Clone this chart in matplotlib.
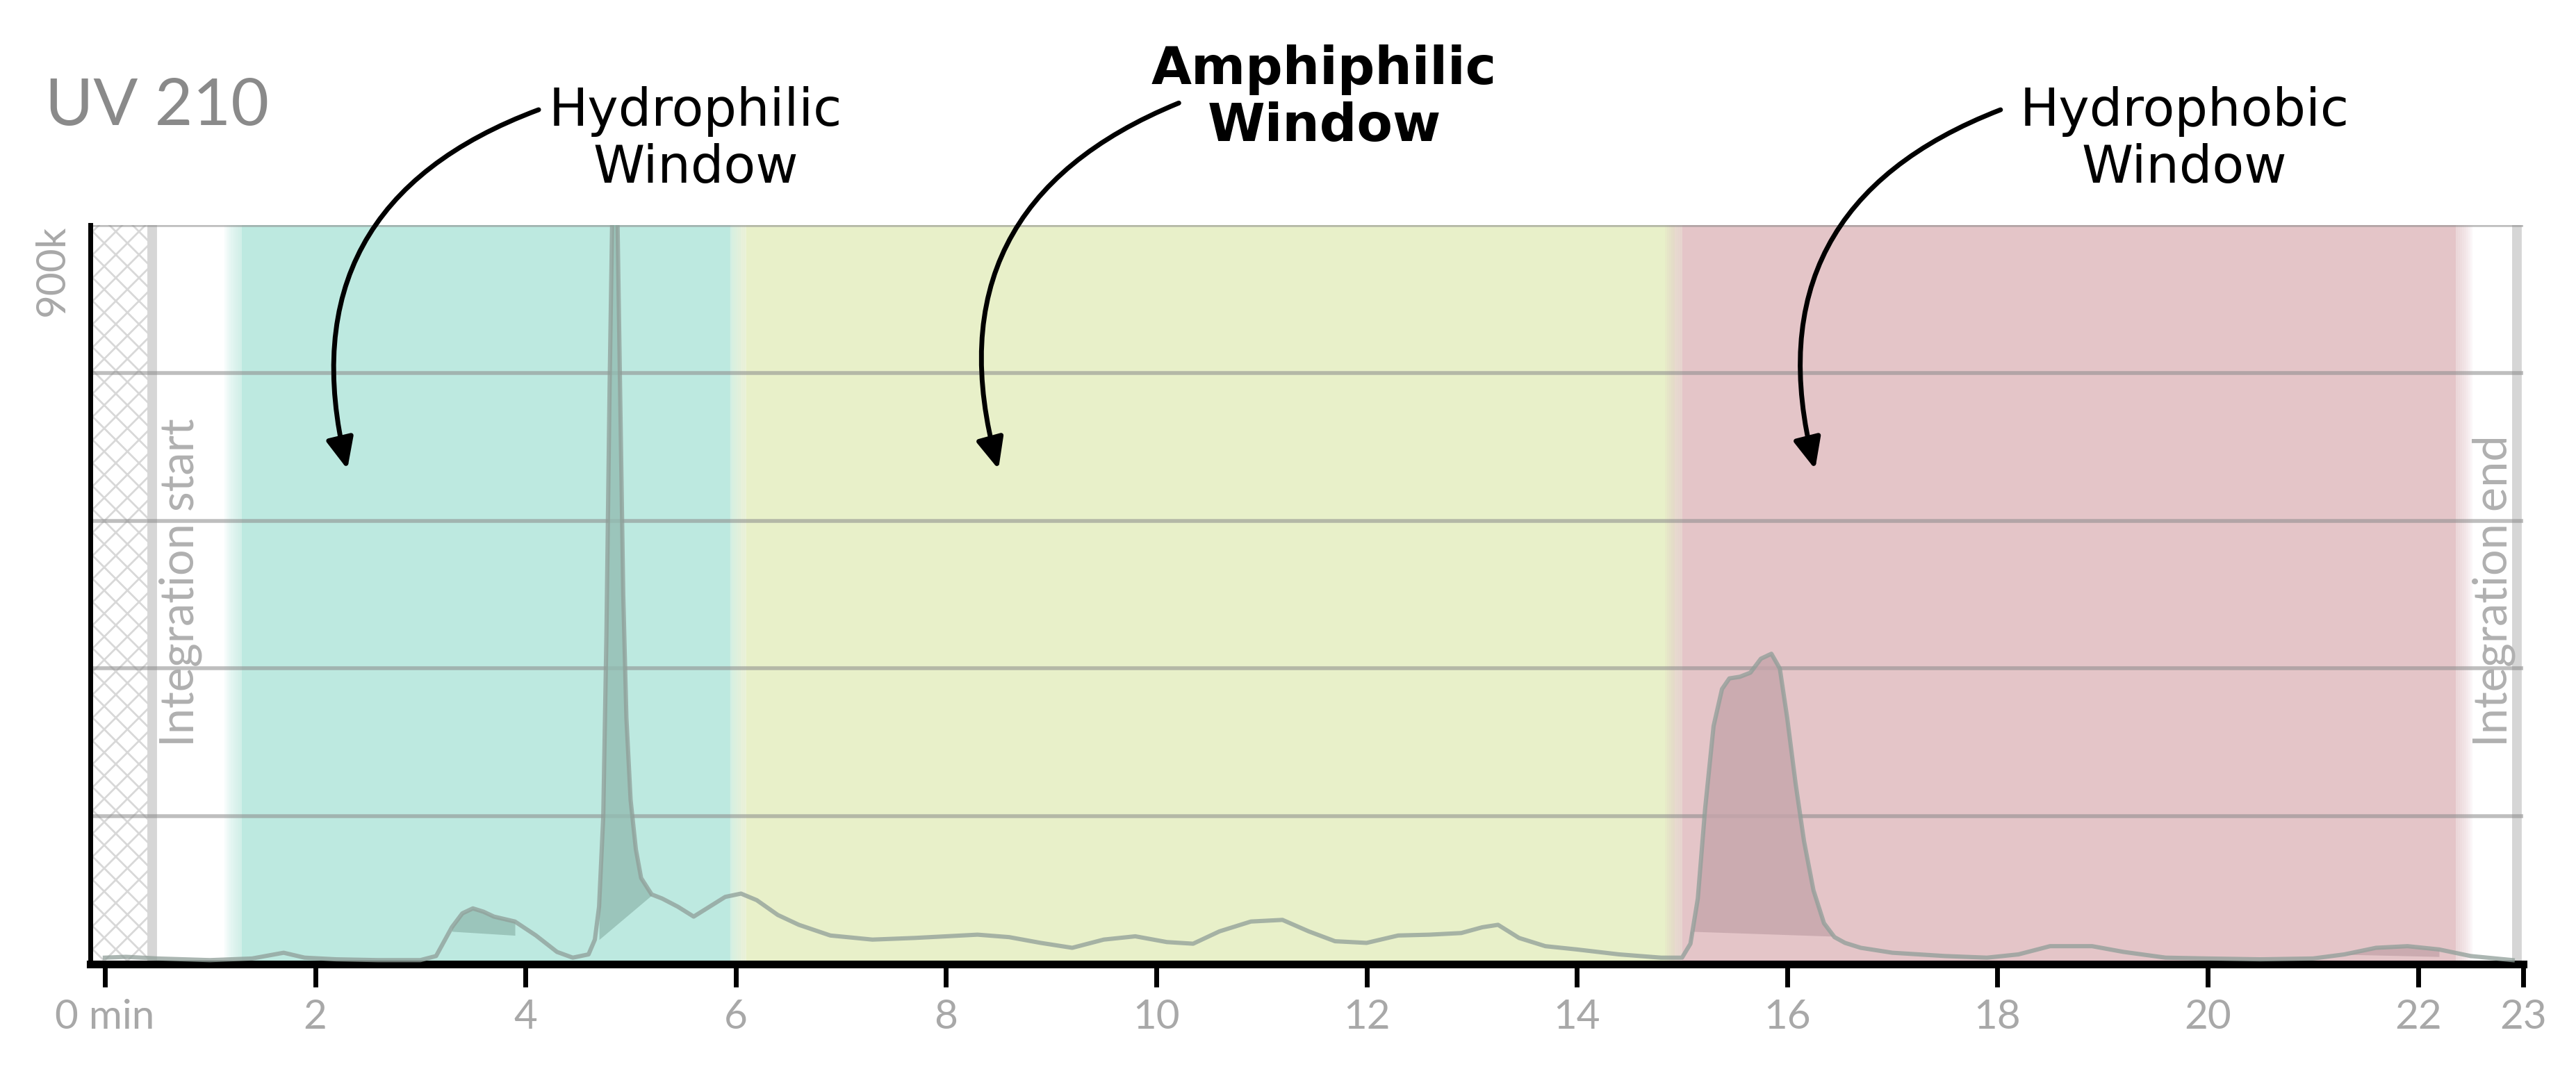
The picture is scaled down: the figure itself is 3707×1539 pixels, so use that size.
import numpy as np
import matplotlib
matplotlib.use("Agg")
import matplotlib.pyplot as plt

# data (minutes, signal in k)
t = [0.0, 0.2, 0.5, 1.0, 1.4, 1.7, 1.9, 2.2, 2.6, 3.0, 3.15, 3.3, 3.4, 3.5, 3.6, 3.7, 3.9, 4.1, 4.3, 4.45, 4.6, 4.66,
     4.7, 4.74, 4.77, 4.8, 4.83, 4.87, 4.9, 4.93, 4.96, 5.0, 5.05, 5.1, 5.2, 5.3, 5.45, 5.6, 5.75, 5.9, 6.05, 6.2, 6.4,
     6.6, 6.9, 7.3, 7.7,
     8.0, 8.3, 8.6, 8.9, 9.2, 9.5, 9.8, 10.1, 10.35, 10.6, 10.9, 11.2, 11.45, 11.7, 12.0, 12.3, 12.6, 12.9, 13.1, 13.25,
     13.45, 13.7, 14.0, 14.4, 14.8, 15.0, 15.08, 15.15, 15.22, 15.3, 15.38, 15.45, 15.55, 15.65, 15.75, 15.85, 15.93,
     16.0, 16.08, 16.16, 16.25, 16.35, 16.45, 16.55,
     16.7, 17.0, 17.5, 17.9, 18.2, 18.5, 18.9, 19.2, 19.6, 20.0, 20.5, 21.0, 21.3, 21.6, 21.9, 22.2, 22.5, 22.9]
v = [8, 9, 7, 5, 7, 14, 8, 6, 5, 5, 10, 45, 62, 68, 64, 58, 52, 35, 15, 8, 12, 30,
     70, 180, 400, 700, 950, 950, 700, 450, 300, 200, 140, 105, 85, 80, 70, 58, 70, 82, 86, 78, 60,
     48, 35, 30, 32,
     34, 36, 33, 26, 20, 30, 34, 27, 25, 40, 52, 54, 40, 28, 26, 35, 36, 38, 45, 48,
     32, 22, 18, 12, 8, 8, 25, 80, 190, 290, 335, 348, 350, 355, 372, 378, 360,
     300, 220, 150, 90, 50, 33, 26,
     20, 14, 10, 8, 12, 22, 22, 15, 8, 7, 6, 7, 12, 20, 22, 18, 10, 5]

# integration baselines (start, end) for shaded peaks
peak_t = [(3.3, 4.05), (4.7, 5.2), (15.08, 16.45), (21.3, 22.3)]
peak_base = [(40, 34), (30, 84), (40, 34), (12, 9)]

bands_x = [(1.3, 5.95), (6.1, 14.93), (15.0, 22.36)]
band_colors = ["#bde9e0", "#e8f0c9", "#e4c5c8"]
fill_colors = ["#93bcb2", "#c9d2a4", "#c5a5ab"]

W, H, DPI = 3707, 1539, 200
fig = plt.figure(figsize=(W / DPI, H / DPI), dpi=DPI)
ax = fig.add_axes([0.035, 0.098, 0.9445, 0.6915])
ax.set_xlim(-0.14, 23.0)
ax.set_ylim(0, 900)

ax.axvspan(-0.14, 0.45, facecolor="white", edgecolor="#d8d8d8", hatch="xx", lw=0, zorder=0)
ax.axvline(0.45, color="#d6d6d6", lw=5, zorder=1)
ax.axvline(22.94, color="#d6d6d6", lw=5, zorder=1)

for (a, b), c in zip(bands_x, band_colors):
    ax.axvspan(a, b, color=c, lw=0, zorder=0.5)
    for k in range(8):
        w = 0.02 * (k + 1)
        ax.axvspan(a - w, a, color=c, alpha=0.12, lw=0, zorder=0.5)
        ax.axvspan(b, b + w, color=c, alpha=0.12, lw=0, zorder=0.5)

for yy in [180, 360, 540, 720, 900]:
    ax.axhline(yy, color="#8a8a8a", alpha=0.55, lw=2, zorder=2)

t_arr = np.array(t)
v_arr = np.array(v)


def region(x):
    for i, (a, b) in enumerate(bands_x):
        if x <= b + 0.05:
            return i
    return 2


for (a, b), (ya, yb) in zip(peak_t, peak_base):
    m = (t_arr >= a) & (t_arr <= b)
    xs = t_arr[m]
    base = ya + (yb - ya) * (xs - a) / (b - a)
    ax.fill_between(xs, base, v_arr[m], color=fill_colors[region((a + b) / 2)], alpha=0.8, lw=0, zorder=3)

ax.plot(t, v, color="#8f9e98", alpha=0.75, lw=2.2, zorder=4, clip_on=True)

for s in ["top", "right"]:
    ax.spines[s].set_visible(False)
ax.spines["left"].set_linewidth(2.5)
ax.spines["bottom"].set_linewidth(4)
ax.set_yticks([])
ax.set_xticks([0, 2, 4, 6, 8, 10, 12, 14, 16, 18, 20, 22, 23])
ax.set_xticklabels(["0 min", "2", "4", "6", "8", "10", "12", "14", "16", "18", "20", "22", "23"],
                   fontsize=21, color="#a8a8a8", family="Lato")
ax.tick_params(axis="x", length=12, width=2.5, pad=6)

ax.text(-0.5, 900, "900k", rotation=90, ha="center", va="top", fontsize=21, color="#a8a8a8", family="Lato")
ax.text(0.72, 265, "Integration start", rotation=90, ha="center", va="bottom", fontsize=24, color="#b0b0b0",
        family="Lato")
ax.text(22.72, 265, "Integration end", rotation=90, ha="center", va="bottom", fontsize=24, color="#b0b0b0",
        family="Lato")

fig.text(0.0175, 0.9, "UV 210", fontsize=34, color="#8a8a8a", family="Lato", va="center", ha="left")

labels = ["Hydrophilic\nWindow", "Amphiphilic\nWindow", "Hydrophobic\nWindow"]
label_pos = [(0.27, 0.869), (0.514, 0.908), (0.848, 0.869)]
arrow_start = [(0.2105, 0.8986), (0.459, 0.905), (0.778, 0.8986)]
arrow_end = [(0.1352, 0.5576), (0.388, 0.5576), (0.705, 0.5576)]
for i, lab in enumerate(labels):
    fig.text(*label_pos[i], lab, ha="center", va="center", fontsize=27, family="DejaVu Sans",
             fontweight="bold" if i == 1 else "normal", linespacing=1.15)
    fig.add_artist(matplotlib.patches.FancyArrowPatch(arrow_start[i], arrow_end[i], transform=fig.transFigure,
                   connectionstyle="arc3,rad=0.45", arrowstyle="-|>,head_length=9,head_width=4",
                   color="black", lw=2.5, mutation_scale=1.5))

fig.savefig("out.png", dpi=DPI)
